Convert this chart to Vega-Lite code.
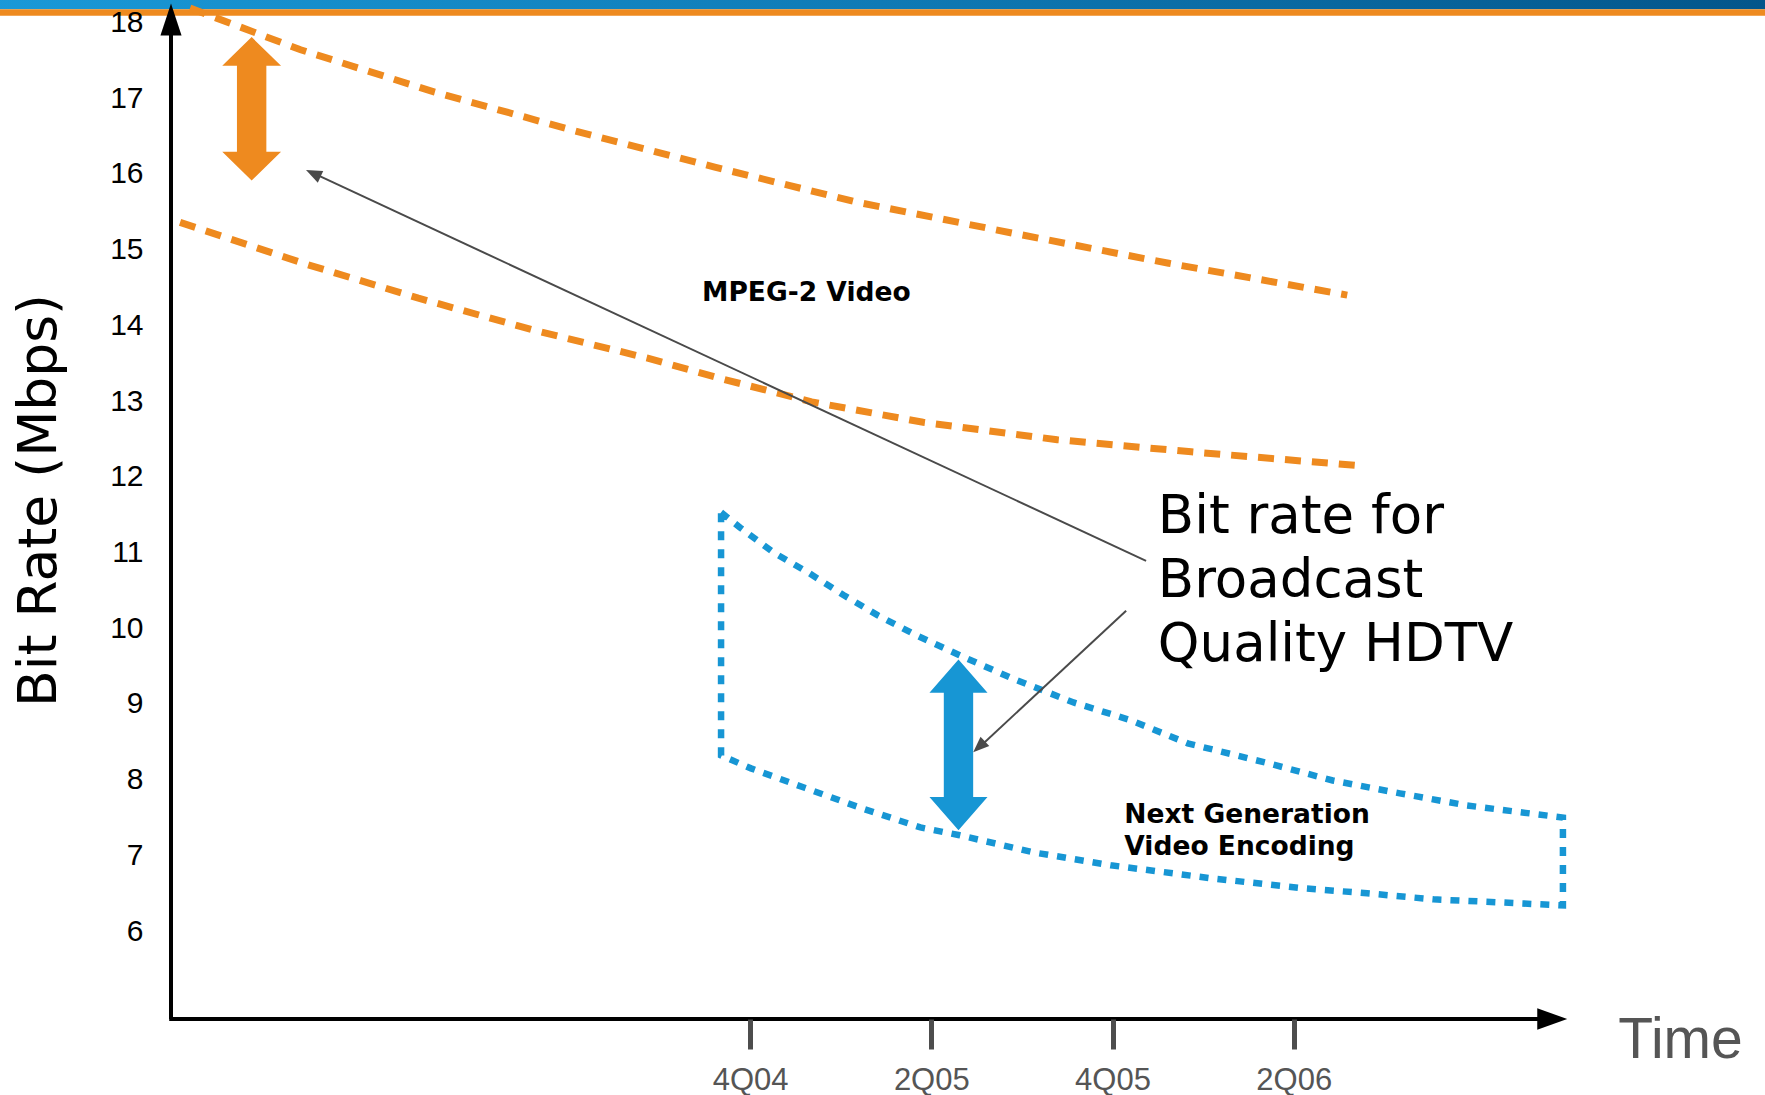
{
  "$schema": "https://vega.github.io/schema/vega-lite/v6.json",
  "width": 1594,
  "height": 1019,
  "autosize": {"type": "none"},
  "padding": {"left": 171, "top": 0, "right": 0, "bottom": 76},
  "background": "white",
  "config": {"view": {"stroke": null}, "axis": {"grid": false}},
  "datasets": {
    "band": [{"x": -8.4, "x2": 11.3, "y": 18.31, "y2": 18.175, "yo": 18.175, "yo2": 18.09}],
    "mpeg2": [
      {"series": "upper", "i": 0, "x": -6.18, "y": 18.19},
      {"series": "upper", "i": 1, "x": -4.96, "y": 17.64},
      {"series": "upper", "i": 2, "x": -3.48, "y": 17.08},
      {"series": "upper", "i": 3, "x": -2.0, "y": 16.59},
      {"series": "upper", "i": 4, "x": -0.39, "y": 16.09},
      {"series": "upper", "i": 5, "x": 1.17, "y": 15.63},
      {"series": "upper", "i": 6, "x": 2.89, "y": 15.22},
      {"series": "upper", "i": 7, "x": 4.62, "y": 14.82},
      {"series": "upper", "i": 8, "x": 6.59, "y": 14.4},
      {"series": "lower", "i": 0, "x": -6.29, "y": 15.36},
      {"series": "lower", "i": 1, "x": -4.93, "y": 14.82},
      {"series": "lower", "i": 2, "x": -3.66, "y": 14.36},
      {"series": "lower", "i": 3, "x": -2.4, "y": 13.94},
      {"series": "lower", "i": 4, "x": -1.14, "y": 13.57},
      {"series": "lower", "i": 5, "x": -0.33, "y": 13.3},
      {"series": "lower", "i": 6, "x": 0.68, "y": 12.99},
      {"series": "lower", "i": 7, "x": 1.91, "y": 12.72},
      {"series": "lower", "i": 8, "x": 3.39, "y": 12.49},
      {"series": "lower", "i": 9, "x": 4.87, "y": 12.33},
      {"series": "lower", "i": 10, "x": 6.69, "y": 12.15}
    ],
    "nextgen": [
      {"i": 1, "x": -0.32, "y": 11.53},
      {"i": 2, "x": -0.11, "y": 11.33},
      {"i": 3, "x": 0.26, "y": 11.0},
      {"i": 4, "x": 0.65, "y": 10.73},
      {"i": 5, "x": 1.03, "y": 10.44},
      {"i": 6, "x": 1.41, "y": 10.17},
      {"i": 7, "x": 1.83, "y": 9.91},
      {"i": 8, "x": 2.3, "y": 9.65},
      {"i": 9, "x": 2.89, "y": 9.34},
      {"i": 10, "x": 3.57, "y": 9.02},
      {"i": 11, "x": 4.19, "y": 8.79},
      {"i": 12, "x": 4.83, "y": 8.48},
      {"i": 13, "x": 5.71, "y": 8.22},
      {"i": 14, "x": 6.43, "y": 7.99},
      {"i": 15, "x": 7.17, "y": 7.82},
      {"i": 16, "x": 7.91, "y": 7.66},
      {"i": 17, "x": 8.97, "y": 7.5},
      {"i": 18, "x": 8.97, "y": 6.34},
      {"i": 19, "x": 8.28, "y": 6.38},
      {"i": 20, "x": 7.54, "y": 6.42},
      {"i": 21, "x": 6.81, "y": 6.5},
      {"i": 22, "x": 6.07, "y": 6.57},
      {"i": 23, "x": 5.08, "y": 6.7},
      {"i": 24, "x": 3.98, "y": 6.87},
      {"i": 25, "x": 3.13, "y": 7.04},
      {"i": 26, "x": 2.3, "y": 7.27},
      {"i": 27, "x": 1.88, "y": 7.37},
      {"i": 28, "x": 1.24, "y": 7.62},
      {"i": 29, "x": 0.61, "y": 7.89},
      {"i": 30, "x": 0.01, "y": 8.15},
      {"i": 31, "x": -0.32, "y": 8.32},
      {"i": 32, "x": -0.32, "y": 11.53}
    ],
    "axes": [
      {"x": -6.39, "y": 4.84, "x2": -6.39, "y2": 18.04},
      {"x": -6.41, "y": 4.84, "x2": 8.85, "y2": 4.84}
    ],
    "pointers": [
      {"x": 4.37, "y": 10.89, "x2": -4.82, "y2": 16.01},
      {"x": 4.15, "y": 10.23, "x2": 2.53, "y2": 8.43}
    ]
  },
  "encoding": {
    "x": {
      "field": "x", "type": "quantitative",
      "scale": {"domain": [-6.39, 11.2], "nice": false, "zero": false},
      "axis": {
        "title": null, "domain": false, "grid": false, "zindex": 1,
        "values": [0, 2, 4, 6],
        "labelExpr": "datum.value == 0 ? '4Q04' : datum.value == 2 ? '2Q05' : datum.value == 4 ? '4Q05' : '2Q06'",
        "tickColor": "#4d4d4d", "tickWidth": 5, "tickSize": 30,
        "labelFont": "Liberation Sans", "labelFontSize": 31, "labelColor": "#555555",
        "labelPadding": 16, "labelFlush": false, "labelOverlap": false
      }
    },
    "y": {
      "field": "y", "type": "quantitative",
      "scale": {"domain": [4.84, 18.297], "nice": false, "zero": false},
      "axis": {
        "domain": false, "ticks": false, "tickSize": 0, "grid": false, "zindex": 1,
        "values": [6, 7, 8, 9, 10, 11, 12, 13, 14, 15, 16, 17, 18],
        "labelFont": "Liberation Sans", "labelFontSize": 30, "labelColor": "#000000",
        "labelPadding": 28, "labelFlush": false, "labelOverlap": false,
        "title": "Bit Rate (Mbps)", "titleFont": "DejaVu Sans", "titleFontSize": 53.5,
        "titleFontWeight": "normal", "titleColor": "#000000", "titleAngle": -90,
        "titleX": -116, "titleY": 500, "titleAlign": "center", "titleBaseline": "alphabetic"
      }
    }
  },
  "layer": [
    {
      "data": {"name": "band"},
      "mark": {"type": "rect", "color": {"gradient": "linear", "x1": 0, "y1": 0, "x2": 1, "y2": 0, "stops": [{"offset": 0, "color": "#1a99d8"}, {"offset": 0.5, "color": "#0f7ab5"}, {"offset": 1, "color": "#03558a"}]}},
      "encoding": {"x2": {"field": "x2"}, "y2": {"field": "y2"}}
    },
    {
      "data": {"name": "band"},
      "mark": {"type": "rect", "color": "#EE8A1F"},
      "encoding": {"x2": {"field": "x2"}, "y": {"field": "yo", "type": "quantitative"}, "y2": {"field": "yo2"}}
    },
    {
      "data": {"name": "mpeg2"},
      "mark": {"type": "line", "color": "#EE8A1F", "strokeWidth": 7, "strokeDash": [16, 11]},
      "encoding": {"detail": {"field": "series"}, "order": {"field": "i", "type": "quantitative"}}
    },
    {
      "data": {"name": "nextgen"},
      "mark": {"type": "line", "color": "#1796D4", "strokeWidth": 6.5, "strokeDash": [9, 9]},
      "encoding": {"order": {"field": "i", "type": "quantitative"}}
    },
    {
      "data": {"values": [{"x": -5.5, "y": 16.86}]},
      "mark": {"type": "point", "filled": true, "opacity": 1, "strokeWidth": 0, "color": "#EE8A1F", "size": 20564,
        "shape": "M0,-1L0.41,-0.6L0.205,-0.6L0.205,0.6L0.41,0.6L0,1L-0.41,0.6L-0.205,0.6L-0.205,-0.6L-0.41,-0.6Z"}
    },
    {
      "data": {"values": [{"x": 2.3, "y": 8.46}]},
      "mark": {"type": "point", "filled": true, "opacity": 1, "strokeWidth": 0, "color": "#1796D4", "size": 29138,
        "shape": "M0,-1L0.34,-0.61L0.172,-0.61L0.172,0.61L0.34,0.61L0,1L-0.34,0.61L-0.172,0.61L-0.172,-0.61L-0.34,-0.61Z"}
    },
    {
      "data": {"name": "pointers"},
      "mark": {"type": "rule", "color": "#4a4a4a", "strokeWidth": 2},
      "encoding": {"x2": {"field": "x2"}, "y2": {"field": "y2"}}
    },
    {
      "data": {"values": [{"x": -4.82, "y": 16.006}]},
      "mark": {"type": "point", "filled": true, "opacity": 1, "strokeWidth": 0, "color": "#4a4a4a", "size": 256, "angle": 295,
        "shape": "M0,-1L0.8,1L-0.8,1Z"}
    },
    {
      "data": {"values": [{"x": 2.527, "y": 8.434}]},
      "mark": {"type": "point", "filled": true, "opacity": 1, "strokeWidth": 0, "color": "#4a4a4a", "size": 256, "angle": 227,
        "shape": "M0,-1L0.8,1L-0.8,1Z"}
    },
    {
      "data": {"name": "axes"},
      "mark": {"type": "rule", "color": "#000000", "strokeWidth": 4},
      "encoding": {"x2": {"field": "x2"}, "y2": {"field": "y2"}}
    },
    {
      "data": {"values": [{"x": -6.39, "y": 18.04}]},
      "mark": {"type": "point", "filled": true, "opacity": 1, "strokeWidth": 0, "color": "#000000", "size": 1024,
        "shape": "M0,-1L0.66,1L-0.66,1Z"}
    },
    {
      "data": {"values": [{"x": 8.852, "y": 4.84}]},
      "mark": {"type": "point", "filled": true, "opacity": 1, "strokeWidth": 0, "color": "#000000", "size": 900,
        "shape": "M1,0L-1,0.72L-1,-0.72Z"}
    },
    {
      "data": {"values": [{"x": -0.53, "y": 14.325, "label": "MPEG-2 Video"}]},
      "mark": {"type": "text", "align": "left", "baseline": "alphabetic", "font": "DejaVu Sans", "fontWeight": "bold", "fontSize": 26.5, "color": "#000000"},
      "encoding": {"text": {"field": "label"}}
    },
    {
      "data": {"values": [
        {"x": 4.13, "y": 7.429, "label": "Next Generation"},
        {"x": 4.13, "y": 7.009, "label": "Video Encoding"}
      ]},
      "mark": {"type": "text", "align": "left", "baseline": "alphabetic", "font": "DejaVu Sans", "fontWeight": "bold", "fontSize": 26.5, "color": "#000000"},
      "encoding": {"text": {"field": "label"}}
    },
    {
      "data": {"values": [
        {"x": 4.5, "y": 11.26, "label": "Bit rate for"},
        {"x": 4.5, "y": 10.41, "label": "Broadcast"},
        {"x": 4.5, "y": 9.57, "label": "Quality HDTV"}
      ]},
      "mark": {"type": "text", "align": "left", "baseline": "alphabetic", "font": "DejaVu Sans", "fontSize": 53, "color": "#000000"},
      "encoding": {"text": {"field": "label"}}
    },
    {
      "data": {"values": [{"x": 9.58, "y": 4.33, "label": "Time"}]},
      "mark": {"type": "text", "align": "left", "baseline": "alphabetic", "font": "Liberation Sans", "fontSize": 57, "color": "#555555"},
      "encoding": {"text": {"field": "label"}}
    }
  ]
}
